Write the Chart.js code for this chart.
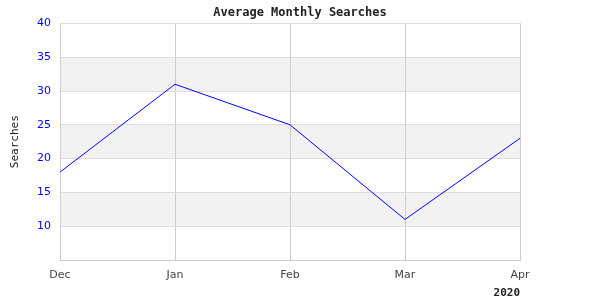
<!DOCTYPE html>
<html>
<head>
<meta charset="utf-8">
<script src="https://cdn.jsdelivr.net/npm/chart.js@4"></script>
<style>
  html, body { margin: 0; padding: 0; background: #fff; }
  #wrap { width: 600px; height: 300px; }
</style>
</head>
<body>
<div id="wrap"><canvas id="searchChart"></canvas></div>
<script>
// data
const months = ["Dec", "Jan", "Feb", "Mar", "Apr"];
const searches = [18, 31, 25, 11, 23];
const yearLabel = "2020";
// shaded horizontal bands (value ranges)
const bands = [[30, 35], [20, 25], [10, 15]];

// draws the grey bands behind the grid
const bandPlugin = {
    id: "bands",
    beforeDraw(chart) {
        const { ctx, chartArea, scales } = chart;
        ctx.save();
        ctx.fillStyle = "#f2f2f2";
        bands.forEach(([lo, hi]) => {
            const top = scales.y.getPixelForValue(hi);
            const bottom = scales.y.getPixelForValue(lo);
            ctx.fillRect(chartArea.left, top, chartArea.right - chartArea.left, bottom - top);
        });
        ctx.restore();
    }
};

document.addEventListener("DOMContentLoaded", () => {
    new Chart(document.getElementById("searchChart"), {
        type: "line",
        data: {
            labels: months,
            datasets: [{
                label: "Searches",
                data: searches,
                borderColor: "#0000ff",
                borderWidth: 1,
                pointRadius: 0,
                tension: 0,
                fill: false
            }]
        },
        options: {
            responsive: true,
            maintainAspectRatio: false,
            animation: false,
            scales: {
                x: {
                    offset: false,
                    grid: { color: "#cccccc", drawTicks: false },
                    border: { color: "#cccccc" },
                    ticks: {
                        color: "#444444",
                        padding: 9,
                        maxRotation: 0,
                        font: { family: "DejaVu Sans", size: 11 }
                    },
                    title: {
                        display: true,
                        text: yearLabel,
                        align: "end",
                        color: "#222222",
                        padding: { top: 8, bottom: 0 },
                        font: { family: "DejaVu Sans Mono", size: 11, weight: "bold" }
                    },
                    afterFit: scale => { scale.height = 40; }
                },
                y: {
                    min: 5,
                    max: 40,
                    grid: { color: "#dddddd", drawTicks: false },
                    border: { color: "#cccccc" },
                    ticks: {
                        stepSize: 5,
                        color: "#0000ff",
                        padding: 9,
                        font: { family: "DejaVu Sans", size: 11 },
                        callback: value => value === 5 ? "" : value
                    },
                    title: {
                        display: true,
                        text: "Searches",
                        color: "#222222",
                        padding: { top: 9, bottom: 0 },
                        font: { family: "DejaVu Sans Mono", size: 11 }
                    },
                    afterFit: scale => { scale.width = 60; }
                },
                // empty right axis, only keeps the plot clear of the right margin
                yRight: {
                    position: "right",
                    grid: { display: false },
                    border: { display: false },
                    ticks: { display: false },
                    afterFit: scale => { scale.width = 80; }
                }
            },
            plugins: {
                legend: { display: false },
                tooltip: { enabled: false },
                title: {
                    display: true,
                    text: "Average Monthly Searches",
                    color: "#222222",
                    padding: { top: 6, bottom: 3 },
                    font: { family: "DejaVu Sans Mono", size: 12, weight: "bold" }
                }
            }
        },
        plugins: [bandPlugin]
    });
});
</script>
</body>
</html>
